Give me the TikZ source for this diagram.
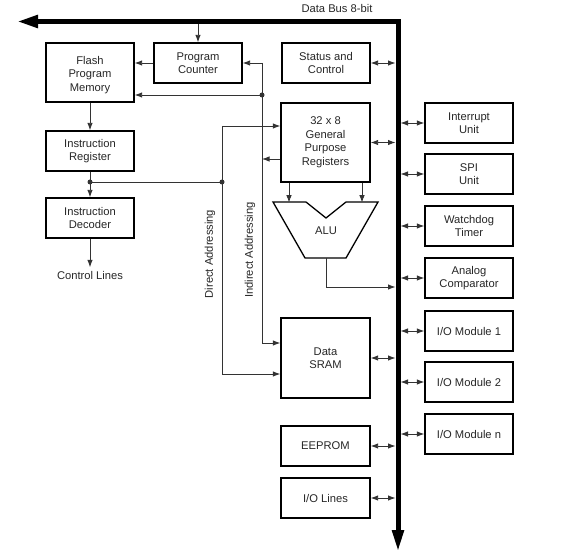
\documentclass[tikz,border=0pt]{standalone}
\usepackage{fontspec}
\setmainfont{Liberation Sans}
\usetikzlibrary{arrows.meta,calc}
\begin{document}
\begin{tikzpicture}[x=1pt,y=-1pt,
  every node/.style={font=\fontsize{11.2}{13.5}\selectfont, text=black!85},
  box/.style={draw, line width=1.3pt, minimum width=88pt, minimum height=40pt, inner sep=0pt, align=center},
  conn/.style={line width=0.9pt, draw=black!80},
  arr/.style={conn, -{Latex[length=7.5pt,width=5.5pt]}},
  dbl/.style={conn, {Latex[length=7.5pt,width=5.5pt]}-{Latex[length=7.5pt,width=5.5pt]}},
  junction/.style={fill=black!80, circle, inner sep=0pt, minimum size=5pt},
  bus/.style={line width=5pt, line join=miter, {Triangle[length=21pt,width=12pt]}-{Triangle[length=22pt,width=11pt]}}
]
\useasboundingbox (0,0) rectangle (564,553);

% bus
\draw[bus] (17,21.5) -- (398,21.5) -- (398,552);
\node (buslabel) at (337,9) {Data Bus 8-bit};
\coordinate (busL) at (395.5,0);
\coordinate (busR) at (400.5,0);
\coordinate (busB) at (0,24);

% left column
\node[box, minimum height=59pt] (flash) at (90,72.5) {};
\node[align=center, inner sep=0pt] (flashtxt) at (90,75) {Flash\\Program\\Memory};
\node[box] (pc) at (198,63) {Program\\Counter};
\node[box] (status) at (326,63) {Status and\\Control};
\node[box] (ir) at (90,151) {Instruction\\Register};
\node[box] (dec) at (90,218) {Instruction\\Decoder};
\node (ctrl) at (90,275) {Control Lines};

% middle
\node[box, minimum width=89pt, minimum height=79pt] (gpr) at (325.5,142.5) {32 x 8\\General\\Purpose\\Registers};
\draw[line width=1.3pt, line join=miter] (273,202) -- (306,202) -- (326,218) -- (346,202) -- (378,202) -- (346,258) -- (305,258) -- cycle;
\node (alu) at (326,231) {ALU};
\node[box, minimum width=89pt, minimum height=80pt] (sram) at (325.5,358) {Data\\SRAM};
\node[box, minimum width=89pt] (eeprom) at (325.5,446) {EEPROM};
\node[box, minimum width=89pt] (iolines) at (325.5,498) {I/O Lines};

% right column
\node[box] (int) at (469,123) {Interrupt\\Unit};
\node[box] (spi) at (469,174) {SPI\\Unit};
\node[box] (wdt) at (469,226) {Watchdog\\Timer};
\node[box] (ac) at (469,278) {Analog\\Comparator};
\node[box] (io1) at (469,331) {I/O Module 1};
\node[box] (io2) at (469,382) {I/O Module 2};
\node[box] (ion) at (469,434) {I/O Module n};

% bus connections
\draw[arr] (pc.north |- busB) -- (pc.north);
\draw[dbl] (status.east) -- (status.east -| busL);
\draw[dbl] (gpr.east) -- (gpr.east -| busL);
\draw[dbl] (sram.east) -- (sram.east -| busL);
\draw[dbl] (eeprom.east) -- (eeprom.east -| busL);
\draw[dbl] (iolines.east) -- (iolines.east -| busL);
\foreach \n in {int,spi,wdt,ac,io1,io2,ion}
  \draw[dbl] (busR |- \n.west) -- (\n.west);

% program flow
\draw[arr] (pc.west) -- (pc.west -| flash.east);
\draw[arr] (flash.south) -- (ir.north);
\coordinate (irDot) at (90,182);
\draw[conn] (ir.south) -- (irDot);
\draw[arr] (irDot) -- (dec.north);
\draw[arr] (dec.south) -- (ctrl.north);

% indirect addressing
\coordinate (indTop) at (262,63);
\coordinate (indDot) at (262,95);
\coordinate (indBot) at (262,343);
\draw[conn] (indTop) -- (indBot);
\draw[arr] (indTop) -- (pc.east);
\draw[arr] (indDot) -- (indDot -| flash.east);
\draw[arr] ([yshift=-16.5pt]gpr.west) -- ([yshift=-16.5pt]gpr.west -| indTop);
\draw[arr] (indBot) -- (indBot -| sram.west);

% direct addressing
\coordinate (dirTop) at (222,126);
\coordinate (dirDot) at (222,182);
\coordinate (dirBot) at (222,374);
\draw[conn] (dirTop) -- (dirBot);
\draw[arr] (dirTop) -- (dirTop -| gpr.west);
\draw[arr] (dirBot) -- (dirBot -| sram.west);
\draw[conn] (irDot) -- (dirDot);

\node[junction] (j1) at (indDot) {};
\node[junction] (j2) at (irDot) {};
\node[junction] (j3) at (dirDot) {};

\node[rotate=90] (dirlbl) at (210,254) {Direct Addressing};
\node[rotate=90] (indlbl) at (250,250) {Indirect Addressing};

% ALU
\draw[arr] ([xshift=-36.5pt]gpr.south) -- ++(0,20);
\draw[arr] ([xshift=36.5pt]gpr.south) -- ++(0,20);
\coordinate (aluOut) at (326,258);
\coordinate (aluTurn) at (326,287);
\draw[arr] (aluOut) -- (aluTurn) -- (aluTurn -| busL);
\end{tikzpicture}
\end{document}
